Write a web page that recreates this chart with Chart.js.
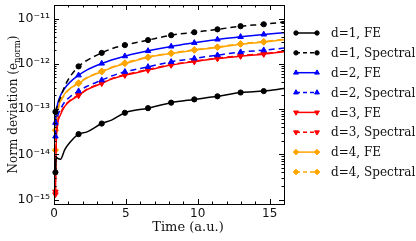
<!DOCTYPE html>
<html>
<head>
<meta charset="utf-8">
<script src="https://cdn.jsdelivr.net/npm/chart.js"></script>
<style>
  html, body { margin: 0; padding: 0; background: #fff; }
  #grafico { display: block; }
</style>
</head>
<body>
<canvas id="grafico" width="416" height="241"></canvas>
<script>
// tiempos donde se leyeron los valores
var tiempos = [0.1, 0.15, 0.25, 0.45, 0.75, 1.1, 1.71, 2.3, 3.32, 4.0, 4.93, 6.54, 8.15, 9.76, 11.37, 12.98, 14.59, 16];
// tiempos con marcador
var tiemposMarcador = [0.1, 1.71, 3.32, 4.93, 6.54, 8.15, 9.76, 11.37, 12.98, 14.59];

var d1FE       = [4.0e-15, 8.7e-15, 8.2e-15, 7.8e-15, 1.27e-14, 1.82e-14, 2.8e-14, 3.15e-14, 4.8e-14, 5.7e-14, 8.3e-14, 1.05e-13, 1.39e-13, 1.64e-13, 1.92e-13, 2.33e-13, 2.5e-13, 2.84e-13];
var d1Spectral = [8.7e-14, 1.0e-13, 1.25e-13, 1.8e-13, 3.2e-13, 5.1e-13, 8.8e-13, 1.2e-12, 1.75e-12, 2.15e-12, 2.6e-12, 3.35e-12, 4.3e-12, 5.0e-12, 5.8e-12, 6.8e-12, 7.5e-12, 8.4e-12];
var d2FE       = [5.0e-14, 8.0e-14, 1.3e-13, 2.0e-13, 2.9e-13, 3.9e-13, 5.6e-13, 7.4e-13, 1.02e-12, 1.22e-12, 1.48e-12, 1.94e-12, 2.43e-12, 2.92e-12, 3.47e-12, 3.96e-12, 4.48e-12, 4.9e-12];
var d2Spectral = [2.5e-14, 5.0e-14, 7.0e-14, 1.0e-13, 1.45e-13, 1.85e-13, 2.5e-13, 3.2e-13, 4.37e-13, 5.4e-13, 6.7e-13, 8.6e-13, 1.11e-12, 1.32e-12, 1.56e-12, 1.82e-12, 2.01e-12, 2.23e-12];
var d3FE       = [1.3e-15, 1.5e-14, 4.5e-14, 7.5e-14, 1.15e-13, 1.5e-13, 2.0e-13, 2.7e-13, 3.7e-13, 4.6e-13, 5.6e-13, 7.3e-13, 9.4e-13, 1.12e-12, 1.31e-12, 1.48e-12, 1.64e-12, 1.85e-12];
var d3Spectral = [1.5e-15, 1.7e-14, 4.8e-14, 8.0e-14, 1.2e-13, 1.55e-13, 2.05e-13, 2.75e-13, 3.8e-13, 4.7e-13, 5.75e-13, 7.5e-13, 9.6e-13, 1.15e-12, 1.34e-12, 1.52e-12, 1.68e-12, 1.9e-12];
var d4FE       = [3.4e-14, 6.0e-14, 1.0e-13, 1.5e-13, 2.2e-13, 2.85e-13, 3.7e-13, 4.9e-13, 6.7e-13, 8.2e-13, 1.02e-12, 1.39e-12, 1.7e-12, 2.01e-12, 2.31e-12, 2.73e-12, 3.03e-12, 3.4e-12];
var d4Spectral = [1.24e-14, 3.5e-14, 8.0e-14, 1.4e-13, 2.1e-13, 2.8e-13, 3.8e-13, 5.0e-13, 6.9e-13, 8.4e-13, 1.05e-12, 1.42e-12, 1.74e-12, 2.05e-12, 2.36e-12, 2.78e-12, 3.1e-12, 3.5e-12];

var etiquetas = ["d=1, FE", "d=1, Spectral", "d=2, FE", "d=2, Spectral", "d=3, FE", "d=3, Spectral", "d=4, FE", "d=4, Spectral"];

var ticksX = [0, 1, 2, 3, 4, 5, 6, 7, 8, 9, 10, 11, 12, 13, 14, 15, 16];
var decadasY = [-15, -14, -13, -12, -11];

var sup = { "-": "\u207B", "0": "\u2070", "1": "\u00B9", "2": "\u00B2", "3": "\u00B3", "4": "\u2074", "5": "\u2075", "6": "\u2076", "7": "\u2077", "8": "\u2078", "9": "\u2079" };

function esDecada(v) {
    var l = Math.log10(v);
    return Math.abs(l - Math.round(l)) < 1e-6;
}

function radio(estilo) {
    return estilo === "circle" ? 2.6 : 3.2;
}

function serie(label, valores, color, discontinua, estilo, rotacion) {
    return {
        label: label,
        data: tiempos.map(function (t, i) { return { x: t, y: valores[i] }; }),
        borderColor: color,
        backgroundColor: color,
        borderWidth: 1.5,
        borderDash: discontinua ? [6, 4] : [],
        pointStyle: estilo,
        pointRotation: rotacion || 0,
        pointRadius: tiempos.map(function (t) { return tiemposMarcador.indexOf(t) >= 0 ? radio(estilo) : 0; }),
        pointBackgroundColor: color,
        pointBorderColor: color,
        pointBorderWidth: 1,
        cubicInterpolationMode: "monotone",
        clip: false
    };
}

var datasets = [
    serie(etiquetas[0], d1FE, "#000000", false, "circle"),
    serie(etiquetas[1], d1Spectral, "#000000", true, "circle"),
    serie(etiquetas[2], d2FE, "#0000ff", false, "triangle"),
    serie(etiquetas[3], d2Spectral, "#0000ff", true, "triangle"),
    serie(etiquetas[4], d3FE, "#ff0000", false, "triangle", 180),
    serie(etiquetas[5], d3Spectral, "#ff0000", true, "triangle", 180),
    serie(etiquetas[6], d4FE, "#ffa500", false, "rectRot"),
    serie(etiquetas[7], d4Spectral, "#ffa500", true, "rectRot")
];

// Marco, marcas hacia dentro, títulos y leyenda
var decoracion = {
    id: "decoracion",
    afterDraw: function (chart) {
        var ctx = chart.ctx;
        var a = chart.chartArea;
        var xs = chart.scales.x, ys = chart.scales.y;
        ctx.save();
        ctx.strokeStyle = "#000";
        ctx.lineWidth = 1;
        ctx.setLineDash([]);
        ctx.strokeRect(Math.round(a.left) + 0.5, Math.round(a.top) + 0.5, Math.round(a.right - a.left), Math.round(a.bottom - a.top));

        ctx.beginPath();
        xs.ticks.forEach(function (t) {
            var px = Math.round(xs.getPixelForValue(t.value)) + 0.5;
            var len = t.value % 5 === 0 ? 5 : 2.5;
            ctx.moveTo(px, a.bottom); ctx.lineTo(px, a.bottom - len);
            ctx.moveTo(px, a.top); ctx.lineTo(px, a.top + len);
        });
        ys.ticks.forEach(function (t) {
            var py = Math.round(ys.getPixelForValue(t.value)) + 0.5;
            var len = esDecada(t.value) ? 5 : 2.5;
            ctx.moveTo(a.left, py); ctx.lineTo(a.left + len, py);
            ctx.moveTo(a.right, py); ctx.lineTo(a.right - len, py);
        });
        ctx.stroke();

        // títulos de los ejes
        ctx.fillStyle = "#111";
        ctx.font = "13px 'DejaVu Serif'";
        ctx.textAlign = "center";
        ctx.textBaseline = "middle";
        ctx.fillText("Time (a.u.)", 188, 228);

        ctx.save();
        ctx.translate(13, (a.top + a.bottom) / 2);
        ctx.rotate(-Math.PI / 2);
        var p1 = "Norm deviation (e", p2 = "norm", p3 = ")";
        ctx.font = "12px 'DejaVu Serif'";
        var w1 = ctx.measureText(p1).width, w3 = ctx.measureText(p3).width;
        ctx.font = "8.5px 'DejaVu Serif'";
        var w2 = ctx.measureText(p2).width;
        var x0 = -(w1 + w2 + w3) / 2;
        ctx.textAlign = "left";
        ctx.textBaseline = "alphabetic";
        ctx.font = "12px 'DejaVu Serif'";
        ctx.fillText(p1, x0, 4);
        ctx.font = "8.5px 'DejaVu Serif'";
        ctx.fillText(p2, x0 + w1, 6.5);
        ctx.font = "12px 'DejaVu Serif'";
        ctx.fillText(p3, x0 + w1 + w2, 4);
        ctx.restore();

        // leyenda
        chart.data.datasets.forEach(function (ds, i) {
            var y = 33 + i * 19.85;
            ctx.strokeStyle = ds.borderColor;
            ctx.lineWidth = 1.5;
            ctx.setLineDash(ds.borderDash.length ? [4, 3] : []);
            ctx.beginPath();
            ctx.moveTo(296, y); ctx.lineTo(317, y);
            ctx.stroke();
            ctx.setLineDash([]);
            ctx.lineWidth = 1;
            [296, 317].forEach(function (px) {
                ctx.fillStyle = ds.borderColor;
                Chart.helpers.drawPoint(ctx, {
                    pointStyle: ds.pointStyle,
                    rotation: ds.pointRotation,
                    radius: radio(ds.pointStyle) - 0.4,
                    borderWidth: 1
                }, px, y);
            });
            ctx.fillStyle = "#111";
            ctx.font = "12px 'DejaVu Serif'";
            ctx.textAlign = "left";
            ctx.textBaseline = "middle";
            ctx.fillText(ds.label, 331, y + 1);
        });
        ctx.restore();
    }
};

var ctx = document.getElementById("grafico").getContext("2d");
var myChart = new Chart(ctx, {
    type: "line",
    data: { datasets: datasets },
    options: {
        responsive: false,
        animation: false,
        devicePixelRatio: 1,
        layout: { padding: { top: 5, right: 132, left: 0, bottom: 0 } },
        plugins: { legend: { display: false }, tooltip: { enabled: false } },
        scales: {
            x: {
                type: "linear",
                min: 0,
                max: 16,
                grid: { display: false, drawTicks: false },
                border: { display: false },
                afterBuildTicks: function (scale) {
                    scale.ticks = ticksX.map(function (v) { return { value: v }; });
                },
                afterFit: function (scale) {
                    scale.height = 37;
                    scale.paddingLeft = 0;
                    scale.paddingRight = 0;
                },
                ticks: {
                    autoSkip: false,
                    maxRotation: 0,
                    padding: 3,
                    color: "#111",
                    font: { family: "DejaVu Sans", size: 12 },
                    callback: function (v) { return v % 5 === 0 ? String(v) : ""; }
                }
            },
            y: {
                type: "logarithmic",
                min: 8e-16,
                max: 2e-11,
                grid: { display: false, drawTicks: false },
                border: { display: false },
                afterBuildTicks: function (scale) {
                    var lista = [];
                    decadasY.forEach(function (e) {
                        for (var m = 1; m <= 9; m++) {
                            var v = m * Math.pow(10, e);
                            if (v >= 8e-16 && v <= 2e-11) lista.push({ value: v });
                        }
                    });
                    scale.ticks = lista;
                },
                afterFit: function (scale) {
                    scale.width = 54;
                    scale.paddingTop = 0;
                    scale.paddingBottom = 0;
                },
                ticks: {
                    autoSkip: false,
                    padding: 4,
                    color: "#111",
                    font: { family: "DejaVu Sans", size: 12.5 },
                    callback: function (v) {
                        if (!esDecada(v)) return "";
                        var e = String(Math.round(Math.log10(v)));
                        return "10" + e.split("").map(function (c) { return sup[c]; }).join("");
                    }
                }
            }
        }
    },
    plugins: [decoracion]
});
</script>
</body>
</html>
